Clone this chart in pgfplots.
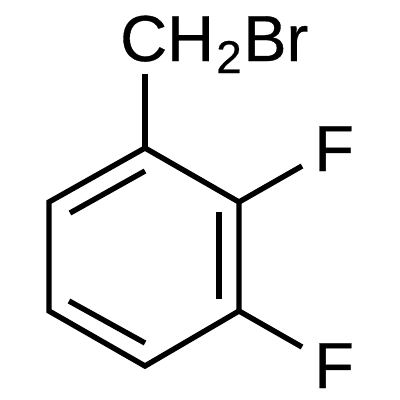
\documentclass[border=0pt]{standalone}
\usepackage{fontspec}
\setmainfont{Liberation Sans}
\newfontfamily\lab[FakeBold=0.5]{Liberation Sans}
\usepackage{pgfplots}
\pgfplotsset{compat=1.18}
\begin{document}
\begin{tikzpicture}
\begin{axis}[
  width=400bp, height=400bp,
  scale only axis,
  at={(0,0)}, anchor=south west,
  xmin=0, xmax=400, ymin=0, ymax=400,
  y dir=reverse,
  axis lines=none,
  clip=false,
  cycle list={{black}},
  every axis plot/.append style={line width=5.4bp, line cap=butt, line join=miter, no markers},
]
% ring and substituent bonds
\addplot coordinates {(145,148) (239,202) (239,311) (145,366) (49,311) (49,202) (145,148)};
\addplot coordinates {(145,148) (145,74)};
\addplot coordinates {(239,202) (302,166)};
\addplot coordinates {(239,311) (302,347)};
% inner double bonds
\addplot coordinates {(145,171) (70,213)};
\addplot coordinates {(219,212) (219,299)};
\addplot coordinates {(145,343) (69,301)};
\node[anchor=base west, inner sep=0pt, font=\lab\fontsize{65bp}{65bp}\selectfont] at (axis cs:120,61) {CH};
\node[anchor=base west, inner sep=0pt, font=\lab\fontsize{46bp}{46bp}\selectfont] at (axis cs:216,73) {2};
\node[anchor=base west, inner sep=0pt, font=\lab\fontsize{65bp}{65bp}\selectfont] at (axis cs:243,61) {Br};
\node[anchor=base west, inner sep=0pt, font=\lab\fontsize{65bp}{65bp}\selectfont] at (axis cs:314,171) {F};
\node[anchor=base west, inner sep=0pt, font=\lab\fontsize{65bp}{65bp}\selectfont] at (axis cs:314,388) {F};
\end{axis}
\useasboundingbox (0,0) rectangle (400bp,400bp);
\end{tikzpicture}
\end{document}
